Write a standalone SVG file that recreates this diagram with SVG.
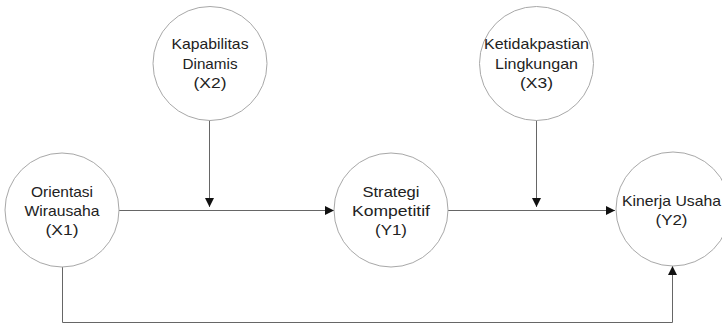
<svg xmlns="http://www.w3.org/2000/svg" width="722" height="324" viewBox="0 0 722 324">
<style>
.node circle{fill:#fff;stroke:#a8a8a8;stroke-width:1}
.node text{font-family:"Liberation Sans",Arial,sans-serif;font-size:14.5px;fill:#222;text-anchor:middle}
.conn path{fill:none;stroke:#666;stroke-width:1}
</style>
<defs>
<marker id="ah" viewBox="0 0 10 10" refX="10" refY="5" markerWidth="9" markerHeight="9" markerUnits="userSpaceOnUse" orient="auto">
<path d="M0,0 L10,5 L0,10 Z" fill="#111"/>
</marker>
</defs>
<rect width="722" height="324" fill="#fff"/>
<g id="connectors" class="conn">
<path d="M119,210.5 H334" marker-end="url(#ah)"/>
<path d="M448,210.5 H615" marker-end="url(#ah)"/>
<path d="M209.5,120 V207" marker-end="url(#ah)"/>
<path d="M536.5,120 V207" marker-end="url(#ah)"/>
<path d="M62.5,267 V322.5 H672.5 V266" marker-end="url(#ah)"/>
</g>
<g id="X2" class="node">
<circle cx="210" cy="63.5" r="57"/>
<text x="210" y="49" textLength="77" lengthAdjust="spacingAndGlyphs">Kapabilitas</text>
<text x="210" y="68.5" textLength="55" lengthAdjust="spacingAndGlyphs">Dinamis</text>
<text x="210" y="88" textLength="33" lengthAdjust="spacingAndGlyphs">(X2)</text>
</g>
<g id="X3" class="node">
<circle cx="536.5" cy="63.5" r="57"/>
<text x="536.5" y="49" textLength="105" lengthAdjust="spacingAndGlyphs">Ketidakpastian</text>
<text x="536.5" y="68.5" textLength="83" lengthAdjust="spacingAndGlyphs">Lingkungan</text>
<text x="536.5" y="88" textLength="33" lengthAdjust="spacingAndGlyphs">(X3)</text>
</g>
<g id="X1" class="node">
<circle cx="62" cy="210" r="57"/>
<text x="62" y="197" textLength="62" lengthAdjust="spacingAndGlyphs">Orientasi</text>
<text x="62" y="216" textLength="75" lengthAdjust="spacingAndGlyphs">Wirausaha</text>
<text x="62" y="235" textLength="33" lengthAdjust="spacingAndGlyphs">(X1)</text>
</g>
<g id="Y1" class="node">
<circle cx="391" cy="210" r="57"/>
<text x="391" y="197" textLength="57" lengthAdjust="spacingAndGlyphs">Strategi</text>
<text x="391" y="216" textLength="78" lengthAdjust="spacingAndGlyphs">Kompetitif</text>
<text x="391" y="235" textLength="32" lengthAdjust="spacingAndGlyphs">(Y1)</text>
</g>
<g id="Y2" class="node">
<circle cx="673" cy="209" r="57"/>
<text x="671.5" y="206" textLength="99" lengthAdjust="spacingAndGlyphs">Kinerja Usaha</text>
<text x="671.5" y="225" textLength="32" lengthAdjust="spacingAndGlyphs">(Y2)</text>
</g>
</svg>
